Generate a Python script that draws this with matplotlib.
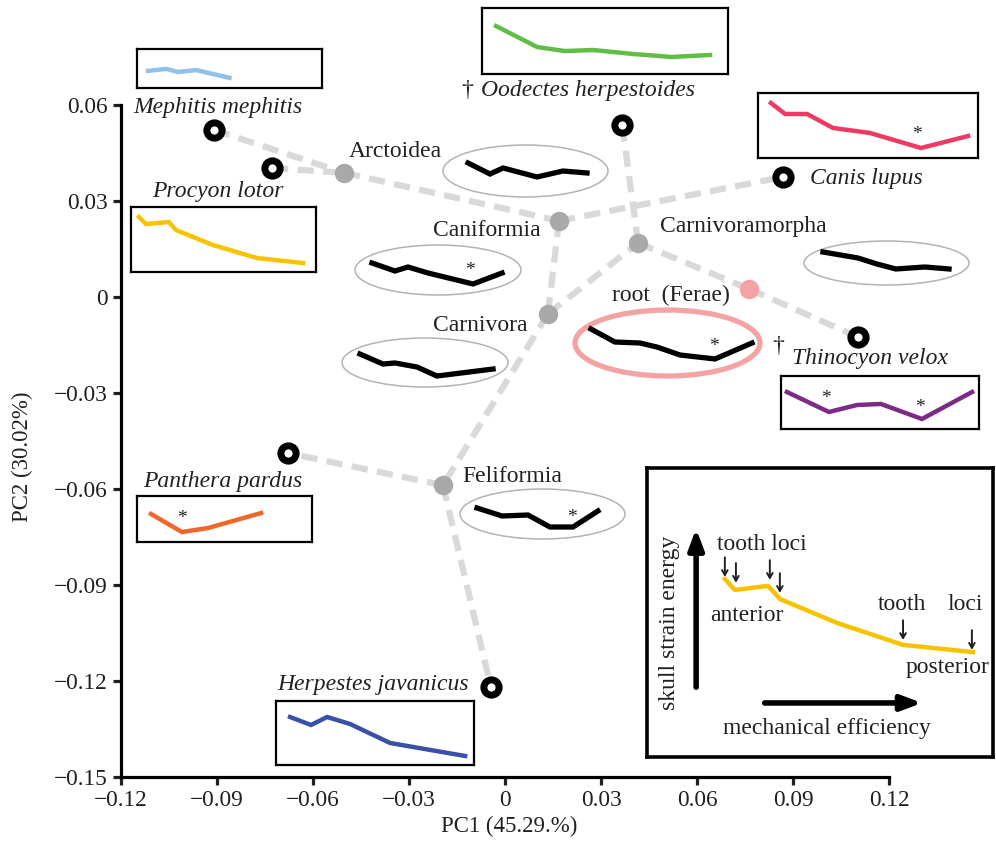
import matplotlib
matplotlib.use('Agg')
import matplotlib.pyplot as plt
from matplotlib.patches import Ellipse

plt.rcParams['font.family'] = ['Liberation Serif', 'DejaVu Serif']
plt.rcParams['text.color'] = '#231f20'

W, H = 996, 847

# node positions in PC space
node_names = ['Mephitis', 'Procyon', 'Arctoidea', 'Caniformia', 'Oodectes', 'Canis',
              'Carnivoramorpha', 'root', 'Thinocyon', 'Carnivora', 'Feliformia',
              'Panthera', 'Herpestes']
pc1 = [-0.0909, -0.0728, -0.0503, 0.0169, 0.0366, 0.0869,
       0.0416, 0.0763, 0.1103, 0.0134, -0.0194, -0.0678, -0.0044]
pc2 = [0.0522, 0.0403, 0.0388, 0.0238, 0.0538, 0.0375,
       0.0169, 0.0025, -0.0125, -0.0053, -0.0588, -0.0488, -0.1219]
node_kind = ['tip', 'tip', 'node', 'node', 'tip', 'tip',
             'node', 'root', 'tip', 'node', 'node', 'tip', 'tip']
edges = [('Mephitis', 'Arctoidea'), ('Procyon', 'Arctoidea'), ('Arctoidea', 'Caniformia'),
         ('Caniformia', 'Canis'), ('Caniformia', 'Carnivora'), ('Carnivora', 'Feliformia'),
         ('Feliformia', 'Panthera'), ('Feliformia', 'Herpestes'), ('Carnivora', 'Carnivoramorpha'),
         ('Carnivoramorpha', 'Oodectes'), ('Carnivoramorpha', 'root'), ('root', 'Thinocyon')]

# strain energy profiles (relative, along tooth row)
mephitis_x = [0.06, 0.16, 0.22, 0.32, 0.50]
mephitis_y = [0.44, 0.49, 0.41, 0.46, 0.26]
procyon_x = [0.043, 0.081, 0.205, 0.243, 0.443, 0.681, 0.930]
procyon_y = [0.846, 0.738, 0.769, 0.646, 0.415, 0.215, 0.138]
oodectes_x = [0.057, 0.224, 0.337, 0.451, 0.614, 0.772, 0.927]
oodectes_y = [0.727, 0.409, 0.348, 0.364, 0.303, 0.258, 0.288]
canis_x = [0.059, 0.123, 0.223, 0.341, 0.509, 0.741, 0.955]
canis_y = [0.846, 0.677, 0.677, 0.462, 0.385, 0.154, 0.338]
thinocyon_x = [0.03, 0.242, 0.384, 0.505, 0.712, 0.965]
thinocyon_y = [0.698, 0.321, 0.453, 0.472, 0.189, 0.698]
panthera_x = [0.08, 0.257, 0.406, 0.709]
panthera_y = [0.609, 0.217, 0.304, 0.630]
herpestes_x = [0.071, 0.177, 0.258, 0.374, 0.576, 0.955]
herpestes_y = [0.75, 0.625, 0.75, 0.641, 0.344, 0.141]

arctoidea_x = [0.152, 0.285, 0.364, 0.570, 0.727, 0.873]
arctoidea_y = [0.654, 0.442, 0.558, 0.385, 0.5, 0.462]
caniformia_x = [0.102, 0.241, 0.319, 0.44, 0.711, 0.886]
caniformia_y = [0.64, 0.48, 0.56, 0.44, 0.22, 0.44]
carnivora_x = [0.108, 0.247, 0.319, 0.452, 0.572, 0.910]
carnivora_y = [0.673, 0.469, 0.49, 0.408, 0.224, 0.367]
feliformia_x = [0.103, 0.255, 0.412, 0.545, 0.685, 0.836]
feliformia_y = [0.62, 0.46, 0.48, 0.24, 0.24, 0.56]
carnivoramorpha_x = [0.115, 0.327, 0.442, 0.557, 0.733, 0.879]
carnivoramorpha_y = [0.75, 0.614, 0.477, 0.364, 0.409, 0.364]
root_x = [0.086, 0.216, 0.351, 0.443, 0.568, 0.757, 0.957]
root_y = [0.712, 0.515, 0.5, 0.439, 0.318, 0.258, 0.5]
legend_x = [0.225, 0.254, 0.350, 0.384, 0.549, 0.740, 0.942]
legend_y = [0.616, 0.578, 0.592, 0.547, 0.464, 0.388, 0.363]

xticks = [-0.12, -0.09, -0.06, -0.03, 0, 0.03, 0.06, 0.09, 0.12]
yticks = [-0.15, -0.12, -0.09, -0.06, -0.03, 0, 0.03, 0.06]


def rect(x0, y0, x1, y1):
    return [x0 / W, 1 - y1 / H, (x1 - x0) / W, (y1 - y0) / H]


def fmt(v):
    if v == 0:
        return '0'
    return ('\u2212' if v < 0 else '') + '%.2f' % abs(v)


fig = plt.figure(figsize=(W / 100, H / 100), dpi=100)
ax = fig.add_axes(rect(121, 105, 889, 777))
ax.set_xlim(-0.12, 0.12)
ax.set_ylim(-0.15, 0.06)
for s in ['top', 'right']:
    ax.spines[s].set_visible(False)
for s in ['left', 'bottom']:
    ax.spines[s].set_linewidth(2.3)
ax.set_xticks(xticks)
ax.set_xticklabels([fmt(v) for v in xticks])
ax.set_yticks(yticks)
ax.set_yticklabels([fmt(v) for v in yticks])
ax.tick_params(labelsize=16.8, width=2.3, length=6, colors='#231f20')

idx = {n: i for i, n in enumerate(node_names)}
for a, b in edges:
    ax.plot([pc1[idx[a]], pc1[idx[b]]], [pc2[idx[a]], pc2[idx[b]]],
            color='#d9d9d9', lw=4.5, dashes=(2.6, 1.5), solid_capstyle='butt', zorder=1)
for i, n in enumerate(node_names):
    if node_kind[i] == 'tip':
        ax.plot(pc1[i], pc2[i], 'o', ms=11, mfc='white', mec='black', mew=5, zorder=3, clip_on=False)
    elif node_kind[i] == 'node':
        ax.plot(pc1[i], pc2[i], 'o', ms=14, color='#a9a9a9', mew=0, zorder=3)
    else:
        ax.plot(pc1[i], pc2[i], 'o', ms=14, color='#f3a3a3', mew=0, zorder=3)

fig.text(509 / W, 1 - 826 / H, 'PC1 (45.29.%)', ha='center', va='center', fontsize=16.5)
fig.text(22 / W, 1 - 457 / H, 'PC2 (30.02%)', ha='center', va='center', fontsize=16.5, rotation=90)


def label(x, y, s, ha='left', italic=True):
    fig.text(x / W, 1 - y / H, s, ha=ha, va='baseline', fontsize=17,
             style='italic' if italic else 'normal')


label(218, 113, 'Mephitis mephitis', 'center')
label(218, 197, 'Procyon lotor', 'center')
label(467, 96, '\u2020', 'center', False)
label(481, 96, 'Oodectes herpestoides')
label(810, 184, 'Canis lupus')
label(778, 352, '\u2020', 'center', False)
label(792, 364, 'Thinocyon velox')
label(223, 487, 'Panthera pardus', 'center')
label(373, 690, 'Herpestes javanicus', 'center')
label(395, 157, 'Arctoidea', 'center', False)
label(487, 236, 'Caniformia', 'center', False)
label(660, 232, 'Carnivoramorpha', 'left', False)
label(612, 301, 'root  (Ferae)', 'left', False)
label(480, 331, 'Carnivora', 'center', False)
label(462, 482, 'Feliformia', 'left', False)


def star(a, x, y):
    a.text(x, y, '*', transform=a.transAxes, ha='center', va='center', fontsize=14)


def box(r, xs, ys, color, stars=()):
    b = fig.add_axes(rect(*r))
    b.set_xlim(0, 1)
    b.set_ylim(0, 1)
    b.set_xticks([])
    b.set_yticks([])
    for s in b.spines.values():
        s.set_linewidth(1.6)
    b.plot(xs, ys, color=color, lw=3.2, solid_joinstyle='miter')
    for sx, sy in stars:
        star(b, sx, sy)
    return b


def oval(r, xs, ys, edge='#b3b3b3', elw=1.1, stars=()):
    b = fig.add_axes(rect(*r))
    b.set_xlim(0, 1)
    b.set_ylim(0, 1)
    b.axis('off')
    b.add_patch(Ellipse((0.5, 0.5), 1, 1, transform=b.transAxes, fill=False,
                        edgecolor=edge, lw=elw, clip_on=False))
    b.plot(xs, ys, color='black', lw=3.8, solid_joinstyle='miter')
    for sx, sy in stars:
        star(b, sx, sy)


box((137, 49, 322, 88), mephitis_x, mephitis_y, '#8fc1ea')
box((131, 207, 316, 272), procyon_x, procyon_y, '#f7c300')
box((482, 8, 728, 74), oodectes_x, oodectes_y, '#62bd46')
box((758, 93, 978, 158), canis_x, canis_y, '#ec3a62', [(0.723, 0.36)])
box((781, 376, 979, 429), thinocyon_x, thinocyon_y, '#7d2a85', [(0.227, 0.58), (0.702, 0.41)])
box((137, 496, 312, 542), panthera_x, panthera_y, '#f0672a', [(0.257, 0.52)])
box((276, 701, 474, 765), herpestes_x, herpestes_y, '#3a4fa6')

oval((443, 145, 608, 197), arctoidea_x, arctoidea_y)
oval((355, 245, 521, 295), caniformia_x, caniformia_y, stars=[(0.693, 0.5)])
oval((342, 338, 508, 387), carnivora_x, carnivora_y)
oval((460, 489, 625, 539), feliformia_x, feliformia_y, stars=[(0.679, 0.42)])
oval((804, 241, 969, 285), carnivoramorpha_x, carnivoramorpha_y)
oval((575, 310, 760, 376), root_x, root_y, edge='#f3a3a3', elw=3.8, stars=[(0.751, 0.45)])

# legend panel
lg = fig.add_axes(rect(647, 468, 993, 757))
lg.set_xlim(0, 1)
lg.set_ylim(0, 1)
lg.set_xticks([])
lg.set_yticks([])
for s in lg.spines.values():
    s.set_linewidth(2.6)
lg.plot(legend_x, legend_y, color='#f7c300', lw=3.2)
lg.annotate('', xy=(0.142, 0.80), xytext=(0.142, 0.232),
            arrowprops=dict(arrowstyle='-|>,head_length=1.2,head_width=0.45', lw=4, color='black'))
lg.annotate('', xy=(0.803, 0.187), xytext=(0.332, 0.187),
            arrowprops=dict(arrowstyle='-|>,head_length=1.2,head_width=0.45', lw=4, color='black'))
lg.text(0.066, 0.464, 'skull strain energy', rotation=90, ha='center', va='center', fontsize=17)
lg.text(0.520, 0.10, 'mechanical efficiency', ha='center', va='center', fontsize=17)
lg.text(0.332, 0.734, 'tooth loci', ha='center', va='center', fontsize=17)
lg.text(0.289, 0.491, 'anterior', ha='center', va='center', fontsize=17)
lg.text(0.737, 0.526, 'tooth', ha='center', va='center', fontsize=17)
lg.text(0.919, 0.526, 'loci', ha='center', va='center', fontsize=17)
lg.text(0.870, 0.308, 'posterior', ha='center', va='center', fontsize=17)
for x_, y_ in [(0.225, 0.657), (0.257, 0.637), (0.355, 0.647), (0.384, 0.602),
               (0.740, 0.439), (0.939, 0.405)]:
    lg.annotate('', xy=(x_, y_ - 0.034), xytext=(x_, y_ + 0.034),
                arrowprops=dict(arrowstyle='->,head_length=0.35,head_width=0.2',
                                lw=1.4, color='#231f20', shrinkA=0, shrinkB=0))

fig.savefig('out.png', dpi=100)
